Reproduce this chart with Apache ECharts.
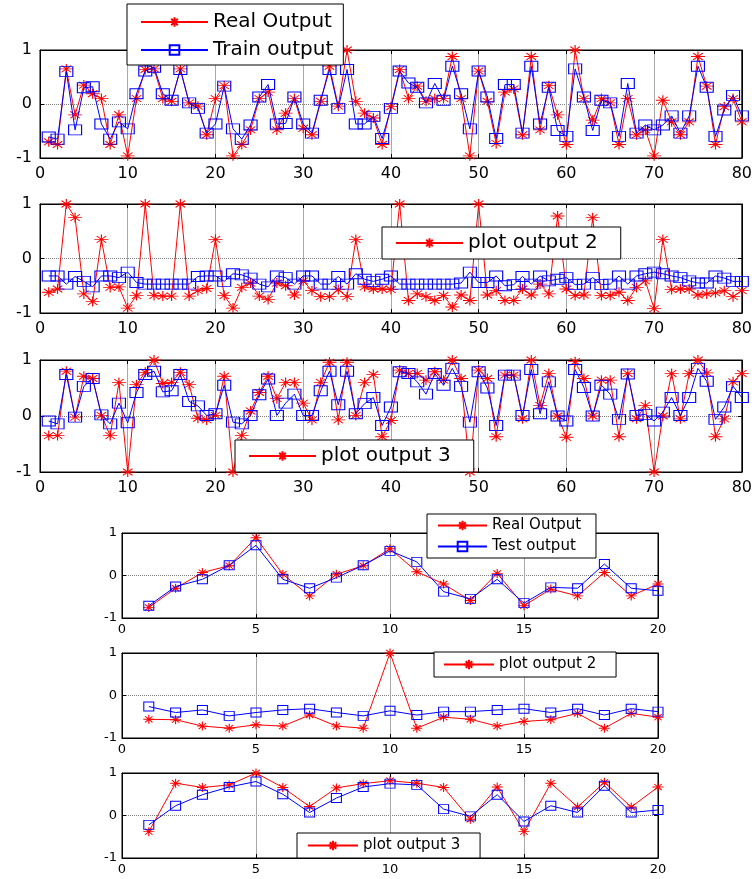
<!DOCTYPE html>
<html><head><meta charset="utf-8">
<script src="https://cdn.jsdelivr.net/npm/echarts@6/dist/echarts.min.js"></script>
<style>html,body{margin:0;padding:0;background:#fff}#c{width:755px;height:879px}</style>
</head><body><div id="c"></div><script>
// ---- data (x = sample index 1..N) ----
const real1=[-0.70,-0.75,0.65,-0.20,0.35,0.19,0.10,-0.75,-0.20,-0.96,
0.10,0.64,0.65,0.10,0.05,0.65,0.02,-0.04,-0.57,0.10,
0.34,-0.96,-0.75,-0.48,0.10,0.22,-0.48,-0.17,0.10,-0.45,
-0.57,0.05,0.70,-0.04,1.0,0.05,-0.17,-0.26,-0.75,-0.05,
0.64,0.10,0.33,0.05,0.10,0.10,0.88,0.10,-0.96,0.61,
0.05,-0.73,0.22,0.28,-0.57,0.88,-0.48,0.34,-0.20,-0.75,
1.0,0.10,-0.30,0.10,0.02,-0.75,0.10,-0.57,-0.48,-0.96,
0.07,-0.33,-0.57,-0.33,0.88,0.33,-0.75,-0.05,0.10,-0.33];
const train1=[-0.61,-0.65,0.60,-0.48,0.30,0.32,-0.37,-0.65,-0.33,-0.46,
0.19,0.61,0.68,0.19,0.07,0.64,0.02,-0.08,-0.54,-0.37,
0.33,-0.46,-0.65,-0.39,0.13,0.36,-0.37,-0.36,0.13,-0.37,
-0.54,0.07,0.64,-0.08,0.64,-0.37,-0.37,-0.23,-0.64,-0.08,
0.61,0.39,0.31,0.02,0.38,0.07,0.70,0.19,-0.46,0.61,
0.13,-0.64,0.36,0.36,-0.54,0.70,-0.37,0.31,-0.49,-0.60,
0.65,0.13,-0.49,0.07,0.02,-0.60,0.38,-0.54,-0.39,-0.48,
-0.39,-0.22,-0.54,-0.22,0.70,0.31,-0.60,-0.11,0.16,-0.22];
const real2=[-0.62,-0.56,1.0,0.75,-0.65,-0.79,0.35,-0.53,-0.52,-0.91,
-0.68,1.0,-0.68,-0.69,-0.69,1.0,-0.69,-0.59,-0.55,0.35,
-0.68,-0.91,-0.53,-0.45,-0.69,-0.75,-0.45,-0.50,-0.67,-0.41,
-0.59,-0.70,-0.70,-0.57,-0.70,0.35,-0.52,-0.56,-0.56,-0.57,
1.0,-0.77,-0.65,-0.70,-0.77,-0.68,-0.89,-0.67,-0.77,1.0,
-0.67,-0.59,-0.77,-0.77,-0.56,-0.67,-0.47,-0.65,0.78,-0.56,
-0.68,-0.67,0.75,-0.68,-0.68,-0.62,-0.77,-0.53,-0.41,-0.92,
0.35,-0.57,-0.56,-0.56,-0.67,-0.65,-0.63,-0.59,-0.70,-0.59];
const train2=[-0.32,-0.32,-0.47,-0.33,-0.42,-0.52,-0.32,-0.32,-0.35,-0.25,
-0.44,-0.47,-0.47,-0.47,-0.47,-0.47,-0.47,-0.33,-0.32,-0.32,
-0.42,-0.28,-0.30,-0.36,-0.47,-0.52,-0.32,-0.35,-0.47,-0.32,
-0.32,-0.47,-0.47,-0.33,-0.47,-0.28,-0.38,-0.42,-0.38,-0.32,
-0.47,-0.47,-0.47,-0.47,-0.47,-0.47,-0.47,-0.45,-0.25,-0.44,
-0.44,-0.32,-0.50,-0.48,-0.33,-0.47,-0.32,-0.41,-0.38,-0.35,
-0.48,-0.47,-0.35,-0.48,-0.47,-0.32,-0.47,-0.32,-0.28,-0.25,
-0.28,-0.32,-0.35,-0.41,-0.45,-0.45,-0.32,-0.36,-0.42,-0.42];
const real3=[-0.35,-0.35,0.80,-0.02,0.71,0.67,0.01,-0.35,0.60,-1.0,
0.56,0.78,1.0,0.58,0.60,0.78,0.56,-0.04,-0.07,0.01,
0.71,-1.0,-0.35,0.09,0.42,0.71,0.31,0.60,0.60,0.23,
-0.07,0.60,0.96,-0.07,0.96,0.01,0.60,0.74,-0.37,-0.08,
0.82,0.76,0.76,0.64,0.79,0.64,1.0,0.67,-1.0,0.82,
0.67,-0.37,0.73,0.73,-0.05,1.0,0.19,0.76,0.0,-0.38,
0.97,0.67,0.0,0.64,0.64,-0.37,0.76,-0.05,0.19,-1.0,
0.0,0.76,-0.05,0.76,1.0,0.77,-0.37,-0.05,0.61,0.76];
const train3=[-0.09,-0.14,0.74,-0.02,0.53,0.67,0.02,-0.14,0.23,-0.12,
0.42,0.74,0.80,0.43,0.45,0.74,0.26,0.18,0.01,0.04,
0.55,-0.11,-0.14,0.01,0.38,0.66,0.01,0.23,0.39,0.01,
0.01,0.45,0.80,0.20,0.80,0.04,0.22,0.33,-0.17,0.16,
0.79,0.76,0.61,0.39,0.76,0.55,0.85,0.53,-0.11,0.79,
0.50,-0.17,0.73,0.73,0.01,0.83,0.04,0.61,0.0,-0.09,
0.83,0.51,0.0,0.55,0.39,-0.06,0.75,0.01,0.03,-0.09,
0.07,0.33,0.01,0.33,0.85,0.62,-0.06,0.16,0.53,0.33];
const real4=[-0.75,-0.30,0.07,0.23,0.89,0.03,-0.48,0.03,0.23,0.63,0.09,-0.20,-0.59,0.05,-0.71,-0.32,-0.48,0.07,-0.48,-0.20];
const test4=[-0.71,-0.26,-0.09,0.24,0.71,-0.09,-0.30,-0.05,0.24,0.58,0.32,-0.38,-0.55,-0.09,-0.65,-0.28,-0.30,0.27,-0.30,-0.36];
const real5=[-0.56,-0.57,-0.72,-0.77,-0.69,-0.72,-0.46,-0.72,-0.77,1.0,-0.77,-0.51,-0.56,-0.72,-0.61,-0.57,-0.42,-0.77,-0.42,-0.51];
const test5=[-0.26,-0.40,-0.34,-0.48,-0.40,-0.34,-0.31,-0.40,-0.48,-0.36,-0.46,-0.38,-0.38,-0.34,-0.31,-0.40,-0.31,-0.46,-0.31,-0.38];
const real6=[-0.38,0.76,0.66,0.72,1.0,0.66,0.21,0.65,0.75,0.82,0.76,0.66,-0.09,0.67,-0.38,0.76,0.20,0.78,0.20,0.67];
const test6=[-0.22,0.23,0.49,0.67,0.80,0.50,0.07,0.41,0.67,0.75,0.72,0.15,-0.02,0.49,-0.14,0.23,0.07,0.70,0.07,0.13];
const xMaxTop=80, xStepTop=10, xMaxBot=20, xStepBot=5;

// ---- styling ----
const FONT='DejaVu Sans';
const RED='#ff0000', BLUE='#0000ff';
const STAR='path://M5,0L5,10M0,5L10,5M1.6,1.6L8.4,8.4M1.6,8.4L8.4,1.6';
const grids=[
 {left:40,right:13,top:50,height:108},
 {left:40,right:13,top:204,height:109},
 {left:40,right:13,top:360,height:112},
 {left:122,right:97,top:533,height:85},
 {left:122,right:97,top:653,height:85},
 {left:122,right:97,top:773,height:85}
].map(g=>Object.assign(g,{show:true,borderColor:'#000',borderWidth:1,backgroundColor:'transparent'}));

function xAx(i,top,mirror){
 return {gridIndex:i,type:'value',min:0,max:top?xMaxTop:xMaxBot,interval:top?xStepTop:xStepBot,
  position:mirror?'top':'bottom',
  axisLine:{show:true,onZero:false,lineStyle:{color:'#000',width:1}},
  axisTick:{show:true,inside:true,length:4,lineStyle:{color:'#000'}},
  axisLabel:{show:!mirror,fontFamily:FONT,fontSize:top?16:13,color:'#000',margin:top?8:5},
  splitLine:{show:!mirror,lineStyle:{color:'#a8a8a8',type:'solid',width:1}}};
}
function yAx(i,top,mirror){
 return {gridIndex:i,type:'value',min:-1,max:1,interval:1,
  position:mirror?'right':'left',
  axisLine:{show:true,onZero:false,lineStyle:{color:'#000',width:1}},
  axisTick:{show:true,inside:true,length:4,lineStyle:{color:'#000'}},
  axisLabel:{show:!mirror,fontFamily:FONT,fontSize:top?16:13,color:'#000',margin:top?8:5},
  splitLine:{show:!mirror,lineStyle:{color:'#808080',type:'dotted',width:1}}};
}
function ser(name,vals,gi,star,size){
 const c=star?RED:BLUE;
 return {type:'line',name:name,xAxisIndex:gi,yAxisIndex:gi,
  data:vals.map((v,i)=>[i+1,v]),
  symbol:star?STAR:'rect',symbolSize:size,showSymbol:true,
  lineStyle:{color:c,width:1},
  itemStyle:{color:'rgba(0,0,0,0)',borderColor:c,borderWidth:1},
  emphasis:{disabled:true},silent:true,animation:false,z:star?2:3};
}
const TS=[13,10], BS=[14,10], TSb=[10,9], BSb=[11,9];
const series=[
 ser('Real Output',real1,0,true,BS), ser('Train output',train1,0,false,TS),
 ser('plot output 2',real2,1,true,BS), ser('p2 blue',train2,1,false,TS),
 ser('plot output 3',real3,2,true,BS), ser('p3 blue',train3,2,false,TS),
 ser('Real Output ',real4,3,true,BSb), ser('Test output',test4,3,false,TSb),
 ser('plot output 2 ',real5,4,true,BSb), ser('p5 blue',test5,4,false,TSb),
 ser('plot output 3 ',real6,5,true,BSb), ser('p6 blue',test6,5,false,TSb)
];
function leg(data,left,top,pad,iw,fs,gap){
 return {data:data,orient:'vertical',left:left,top:top,padding:pad,itemWidth:iw,itemHeight:12,itemGap:gap||0,
  backgroundColor:'#fff',borderColor:'#000',borderWidth:1,borderRadius:0,selectedMode:false,
  textStyle:{fontFamily:FONT,fontSize:fs,color:'#000'}};
}
const legends=[
 leg(['Real Output','Train output'],127,4,[8,10,5,13],67,20,8),
 leg(['plot output 2'],382,227,[6,23,6,13],67,20),
 leg(['plot output 3'],235,440,[6,23,6,13],67,20),
 leg(['Real Output ','Test output'],427,514,[4,10,4,10],49,15,6),
 leg(['plot output 2 '],434,652,[5,15,5,9],50,15),
 leg(['plot output 3 '],297,833,[5,15,5,10],50,15)
];
const idx=[0,1,2,3,4,5];
const chart=echarts.init(document.getElementById('c'),null,{renderer:'canvas'});
chart.setOption({animation:false,backgroundColor:'#fff',
 grid:grids,
 xAxis:idx.map(i=>xAx(i,i<3,false)).concat(idx.map(i=>xAx(i,i<3,true))),
 yAxis:idx.map(i=>yAx(i,i<3,false)).concat(idx.map(i=>yAx(i,i<3,true))),
 legend:legends,
 series:series});
</script></body></html>
